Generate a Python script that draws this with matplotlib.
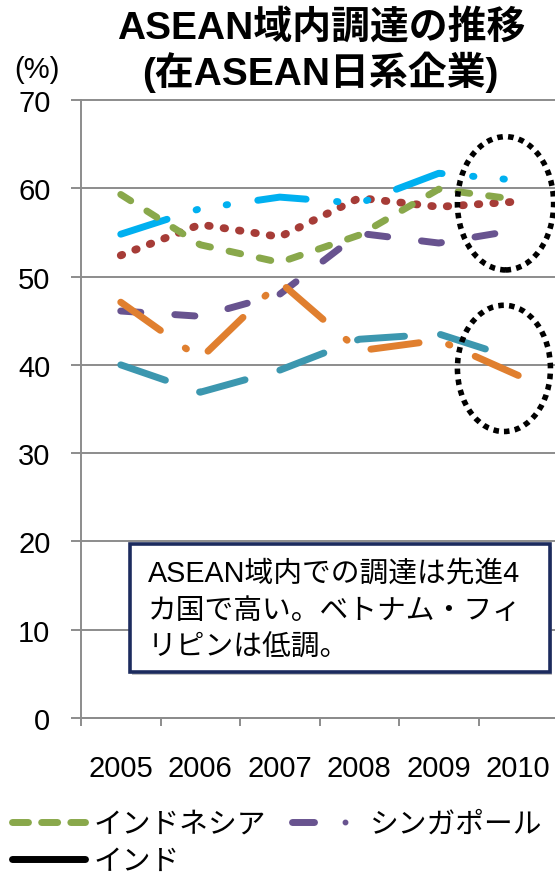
import numpy as np
import matplotlib
matplotlib.use("Agg")
import matplotlib.pyplot as plt
from matplotlib.lines import Line2D
from matplotlib.patches import Ellipse, FancyBboxPatch
from matplotlib.legend_handler import HandlerBase

plt.rcParams['font.family'] = ['Liberation Sans', 'Noto Sans CJK JP']

# ---- data -------------------------------------------------------------
years = ["2005", "2006", "2007", "2008", "2009", "2010"]
thailand = [52.4, 55.9, 54.5, 58.9, 57.9, 58.5]
malaysia = [54.8, 57.7, 59.0, 58.3, 61.7, 60.9]
indonesia = [59.3, 53.6, 51.6, 54.7, 59.9, 58.7]
philippines = [40.0, 36.9, 39.4, 42.9, 43.5, 40.6]
singapore = [46.1, 45.5, 48.0, 54.9, 53.8, 55.3]
vietnam = [47.1, 40.7, 49.4, 41.6, 42.8, 38.8]
yticks = [0, 10, 20, 30, 40, 50, 60, 70]

legend_labels = ["インドネシア", "インド", "シンガポール"]

# ---- colours / styles -------------------------------------------------
C_RED = "#A63C37"
C_BLUE = "#00B0F0"
C_GREEN = "#89A84B"
C_TEAL = "#3C97AF"
C_PURPLE = "#68538F"
C_ORANGE = "#E07F2F"
GRID = "#8C8C8C"
LW = 5

W, H = 555, 879
fig = plt.figure(figsize=(W / 100, H / 100), dpi=100)


def px(x, y):
    """pixel position (from top-left) -> figure fraction"""
    return x / W, 1 - y / H


ax_l, ax_r, ax_t, ax_b = 81, 558, 101, 719
ax = fig.add_axes([ax_l / W, 1 - ax_b / H, (ax_r - ax_l) / W, (ax_b - ax_t) / H])

x = np.arange(len(years))
series = [
    (thailand, C_RED, 5.6, (0.2, 1.8)),
    (malaysia, C_BLUE, LW, (7.0, 4.4, 0.2, 4.2, 0.2, 4.4)),
    (indonesia, C_GREEN, LW, (1.7, 2.75)),
    (philippines, C_TEAL, LW, (6.8, 5.2)),
    (singapore, C_PURPLE, LW, (2.9, 4.9)),
    (vietnam, C_ORANGE, LW, (7.0, 4.4, 0.2, 4.0)),
]
for i, (vals, col, lw, dash) in enumerate(series):
    ax.plot(x, vals, color=col, lw=lw, dashes=dash,
            dash_capstyle='round', solid_capstyle='round', zorder=3 + i)

# axes styling
ax.set_xlim(-0.5, 5.5)
ax.set_ylim(0, 70)
ax.set_xticks(np.arange(-0.5, 6.0, 1.0))
ax.set_xticklabels([])
ax.set_xticks(x, minor=True)
ax.set_xticklabels(years, minor=True, fontsize=21)
ax.tick_params(axis='x', which='major', length=6, width=1.4, color=GRID, direction='out')
ax.tick_params(axis='x', which='minor', length=0, pad=26)
ax.set_yticks(yticks)
ax.set_yticklabels([str(v) for v in yticks], fontsize=21)
ax.tick_params(axis='y', length=7, width=1.4, color=GRID, direction='out', pad=15)
ax.yaxis.grid(True, color=GRID, lw=1.4)
for gl in ax.yaxis.get_gridlines():
    gl.set_clip_on(False)
ax.set_axisbelow(True)
for s in ("top", "right"):
    ax.spines[s].set_visible(False)
for s in ("left", "bottom"):
    ax.spines[s].set_color(GRID)
    ax.spines[s].set_linewidth(1.4)

# dotted ellipses around 2010
for cx, cy, ew, eh in [(4.84, 58.3, 1.21, 15.1), (4.82, 39.6, 1.17, 14.3)]:
    ax.add_patch(Ellipse((cx, cy), ew, eh, fill=False, ec='black', lw=4.0,
                         linestyle=(0, (1, 0.95)), zorder=20, clip_on=False))

# unit label and title
fig.text(*px(37, 70), "(%)", fontsize=21, ha='center', va='center')
fig.text(*px(321, 28), "ASEAN域内調達の推移", fontsize=28, fontweight='bold',
         ha='center', va='center')
fig.text(*px(320, 72), "(在ASEAN日系企業)", fontsize=28, fontweight='bold',
         ha='center', va='center')

# comment box
bx0, by0, bx1, by1 = 130, 545, 550, 673
bl, bb = px(bx0, by1)
br, bt = px(bx1, by0)
shadow = FancyBboxPatch((bl + 2 / W, bb - 3 / H), br - bl, bt - bb, boxstyle='square,pad=0',
                        transform=fig.transFigure, fc='#9a9a9a', ec='none', alpha=0.6, zorder=29)
fig.patches.append(shadow)
box = FancyBboxPatch((bl, bb), br - bl, bt - bb, boxstyle='square,pad=0',
                     transform=fig.transFigure, fc='white', ec='#1C2B5E', lw=2.6, zorder=30)
fig.patches.append(box)
box_lines = ["ASEAN域内での調達は先進4", "カ国で高い。ベトナム・フィ", "リピンは低調。"]
for k, line in enumerate(box_lines):
    fig.text(*px(148, 574 + 37 * k), line, fontsize=20.7, ha='left', va='center', zorder=31)


# legend
class DashDotHandler(HandlerBase):
    def create_artists(self, legend, orig_handle, xdescent, ydescent,
                       width, height, fontsize, trans):
        y = height / 2 - ydescent
        x0 = -xdescent
        dash = Line2D([x0 + 0.05 * width, x0 + 0.35 * width], [y, y], color=C_PURPLE,
                      lw=LW, solid_capstyle='round', transform=trans)
        dot = Line2D([x0 + 0.78 * width], [y], color=C_PURPLE, marker='o', ms=3.2,
                     ls='none', transform=trans)
        return [dash, dot]


h_indo = Line2D([], [], color=C_GREEN, lw=LW, dashes=(2.3, 1.9), dash_capstyle='round')
h_india = Line2D([], [], color='black', lw=LW, solid_capstyle='round')
h_sg = Line2D([], [], color=C_PURPLE, lw=LW)
fig.legend(handles=[h_indo, h_india, h_sg], labels=legend_labels, ncol=2,
           loc='upper left', bbox_to_anchor=px(12, 811), frameon=False,
           fontsize=20.7, handlelength=2.55, handletextpad=0.3, columnspacing=0.75,
           labelspacing=0.3, borderpad=0, borderaxespad=0,
           handler_map={h_sg: DashDotHandler()})

fig.savefig("out.png", dpi=100)
